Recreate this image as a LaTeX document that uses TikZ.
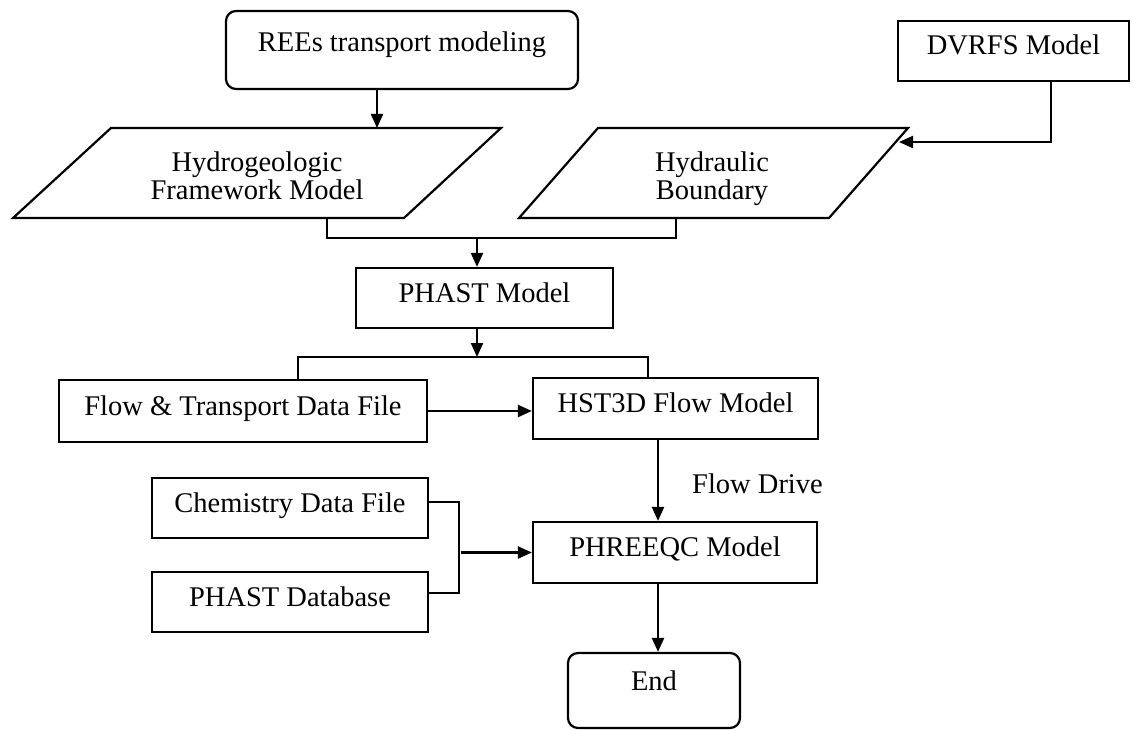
\documentclass[tikz,border=0pt]{standalone}
\usepackage{fontspec}
\setmainfont{Liberation Serif}
\usetikzlibrary{arrows.meta,calc}
\begin{document}
\begin{tikzpicture}[x=1pt,y=-1pt,
  every node/.style={font=\fontsize{28.5}{28}\selectfont, inner sep=0pt, align=center},
  ln/.style={line width=2.2pt, black},
  arr/.style={ln, -{Triangle[length=14pt,width=12pt]}},
  box/.style={draw, line width=2.2pt, text height=20pt, text depth=12pt},
  rbox/.style={box, rounded corners=10pt}
]
\useasboundingbox (0,0) rectangle (1133,730);

% boxes
\node[rbox, minimum width=352pt, minimum height=78pt, text height=41pt, text depth=37pt] (rees) at (402,50) {REEs transport modeling};
\node[box, minimum width=231pt, minimum height=60pt] (dvrfs) at (1013.5,51) {DVRFS Model};
\node[box, minimum width=257pt, minimum height=60pt] (phast) at (484.5,298) {PHAST Model};
\node[box, minimum width=368pt, minimum height=62pt] (flow) at (243,411) {Flow \& Transport Data File};
\node[box, minimum width=285pt, minimum height=61pt] (hst) at (675.5,408.5) {HST3D Flow Model};
\node[box, minimum width=276pt, minimum height=60pt] (chem) at (290,508) {Chemistry Data File};
\node[box, minimum width=276pt, minimum height=60pt] (db) at (290,602) {PHAST Database};
\node[box, minimum width=284pt, minimum height=61pt] (phreeqc) at (675,552.5) {PHREEQC Model};
\node[rbox, minimum width=172pt, minimum height=75pt, text height=37pt, text depth=38pt] (endn) at (654,690.5) {End};

% parallelograms
\draw[ln] (111,128) -- (501,128) -- (404,218) -- (13,218) -- cycle;
\node (hydro) at (257,176) {Hydrogeologic\\Framework Model};
\draw[ln] (598,128) -- (908,128) -- (829,218) -- (519,218) -- cycle;
\node (hydraulic) at (712,179) {Hydraulic\\Boundary};

% connection points
\coordinate (hydroT) at (377,128);
\coordinate (hydroB) at (327,218);
\coordinate (hydrauR) at (899,142);
\coordinate (hydrauB) at (676,218);
\coordinate (dv) at (1051,0);
\coordinate (merge) at (477,238);
\coordinate (split) at (477,357);
\coordinate (fl) at (298,0);
\coordinate (hs) at (648,0);
\coordinate (fd) at (658,0);

% connectors
\draw[arr] (rees.south -| hydroT) -- (hydroT);
\draw[arr] (dvrfs.south -| dv) |- (hydrauR);
\draw[ln] (hydroB) -- (hydroB |- merge) -- (hydrauB |- merge) -- (hydrauB);
\draw[arr] (merge) -- (merge |- phast.north);
\draw[arr] (phast.south -| split) -- (split);
\draw[ln] (flow.north -| fl) -- (fl |- split) -- (hs |- split) -- (hst.north -| hs);
\draw[arr] (flow.east) -- (flow.east -| hst.west);
\draw[arr] (hst.south -| fd) -- (phreeqc.north -| fd);
\node[anchor=base west] (fdl) at (692,493) {Flow Drive};
\draw[ln] ($(chem.east)+(0,-6)$) -- ++(30,0) |- ($(db.east)+(0,-9)$);
\draw[arr] ($(phreeqc.west)+(-71,0)$) -- (phreeqc.west);
\draw[arr] (phreeqc.south -| fd) -- (endn.north -| fd);
\end{tikzpicture}
\end{document}
